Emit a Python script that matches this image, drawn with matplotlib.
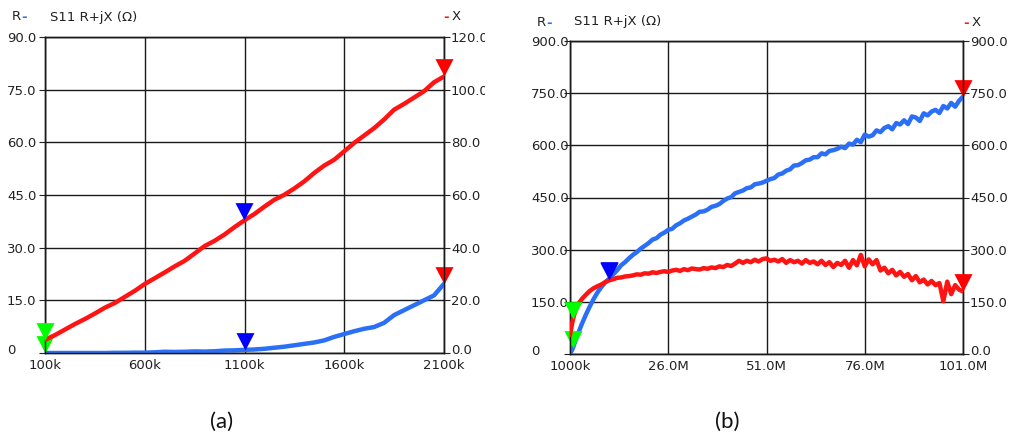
import matplotlib
matplotlib.use("Agg")
import matplotlib.pyplot as plt
from matplotlib.patches import Rectangle
from matplotlib.transforms import ScaledTranslation

# ---------------- data ----------------
# (a) low-frequency sweep, kHz
freq_a = [100, 150, 200, 250, 300, 350, 400, 450, 500, 550, 600, 650, 700, 750,
          800, 850, 900, 950, 1000, 1050, 1100, 1150, 1200, 1250, 1300, 1350,
          1400, 1450, 1500, 1550, 1600, 1650, 1700, 1750, 1800, 1850, 1900,
          1950, 2000, 2050, 2100]
r_a = [0.0, 0.0, 0.0, 0.0, 0.0, 0.0, 0.0, 0.05, 0.05, 0.1, 0.1, 0.2, 0.35, 0.3,
       0.35, 0.45, 0.4, 0.5, 0.7, 0.75, 0.9, 1.0, 1.2, 1.5, 1.8, 2.2, 2.6, 3.0,
       3.6, 4.6, 5.4, 6.2, 6.9, 7.4, 8.6, 10.8, 12.2, 13.6, 15.0, 16.4, 19.7]
x_a = [5.0, 6.8, 8.9, 11.0, 12.9, 15.0, 17.2, 19.0, 21.3, 23.6, 26.2, 28.4, 30.6,
       32.9, 35.0, 37.8, 40.6, 42.6, 45.0, 47.8, 50.4, 52.8, 55.6, 58.2, 60.1,
       62.5, 65.2, 68.4, 71.2, 73.4, 76.6, 79.8, 82.6, 85.4, 88.7, 92.4, 94.6,
       97.0, 99.4, 102.8, 105.0]

# (b) wide sweep, MHz
freq_b = [1, 1.75, 2, 2.5, 3] + list(range(4, 102))
r_b = [0, 17, 26, 42, 57, 86, 112, 136, 158, 177, 193, 206, 217, 229, 241, 255,
       264, 275, 285, 293, 303, 311, 319, 329, 333, 343, 349, 357, 360, 370, 376,
       384, 389, 395, 401, 409, 410, 415, 423, 426, 431, 440, 447, 451, 462, 466,
       470, 477, 479, 488, 490, 493, 498, 503, 506, 516, 519, 527, 531, 542, 543,
       549, 557, 559, 566, 566, 577, 574, 584, 586, 590, 596, 592, 605, 602, 616,
       609, 631, 625, 629, 643, 638, 650, 655, 646, 664, 660, 672, 661, 683, 680,
       670, 692, 686, 697, 702, 693, 713, 706, 722, 711, 728, 740]
x_b = [55, 100, 110, 128, 142, 158, 170, 181, 189, 195, 200, 207, 212, 215, 219,
       220, 223, 224, 226, 229, 228, 232, 231, 235, 233, 236, 238, 236, 240, 242,
       239, 244, 241, 246, 244, 243, 247, 245, 249, 247, 252, 250, 256, 253, 260,
       268, 262, 268, 264, 271, 266, 273, 275, 268, 271, 266, 273, 262, 270, 264,
       268, 260, 270, 262, 266, 258, 268, 256, 264, 250, 262, 256, 268, 248, 270,
       255, 285, 252, 272, 258, 270, 240, 248, 232, 242, 226, 236, 222, 230, 212,
       224, 206, 214, 200, 210, 198, 204, 152, 208, 172, 198, 185, 180]

# marker sample indices (colour, index) per panel
markers_a = [("#00ff00", 0), ("#0000ff", 20), ("#ff0000", 40)]
markers_b = [("#00ff00", 1), ("#0000ff", 12), ("#ff0000", 102)]

ticks_r_a = [0, 15, 30, 45, 60, 75, 90]
ticks_x_a = [0, 20, 40, 60, 80, 100, 120]
xticks_a = [100, 600, 1100, 1600, 2100]
xlabels_a = ["100k", "600k", "1100k", "1600k", "2100k"]

ticks_b = [0, 150, 300, 450, 600, 750, 900]
xticks_b = [1, 26, 51, 76, 101]
xlabels_b = ["1000k", "26.0M", "51.0M", "76.0M", "101.0M"]

# ---------------- styling ----------------
W, H = 1009, 441
BLUE = "#2a6ff5"
RED = "#ff1414"
FS = 9.5
TICK_LEN = 4
plt.rcParams["font.family"] = ["DejaVu Sans"]

fig = plt.figure(figsize=(W / 100, H / 100), dpi=100)


def fx(x):
    return x / W


def fy(y):
    return 1 - y / H


# down-pointing triangle whose tip sits on the data point
tri = [(-0.52, 1.0), (0.52, 1.0), (0.0, 0.0), (-0.52, 1.0)]
lift = ScaledTranslation(0, 4 / 100, fig.dpi_scale_trans)


def panel(left, right, top, bottom, label_x, f, r, x, rlim, xlim, rticks,
          xticks_right, rfmt, xfmt, fticks, flabels, marks):
    ax = fig.add_axes([fx(left), fy(bottom), fx(right - left), (bottom - top) / H])
    ax2 = ax.twinx()
    ax.set_xlim(f[0], f[-1])
    ax.set_ylim(*rlim)
    ax2.set_ylim(*xlim)
    ax.set_xticks(fticks)
    ax.set_xticklabels(flabels)
    ax.set_yticks(rticks)
    ax.set_yticklabels(rfmt)
    ax2.set_yticks(xticks_right)
    ax2.set_yticklabels(xfmt)
    ax.grid(True, color="#1a1a1a", linewidth=1.0)
    for a in (ax, ax2):
        for s in a.spines.values():
            s.set_color("#1a1a1a")
            s.set_linewidth(1.0)
    # left labels are left-aligned at a fixed column (pad is in points)
    pad_pt = (left - label_x) * 72 / 100 - TICK_LEN
    ax.tick_params(axis="y", direction="out", length=TICK_LEN, pad=pad_pt,
                   labelsize=FS, colors="#222222")
    for t in ax.get_yticklabels():
        t.set_horizontalalignment("left")
    ax.tick_params(axis="x", length=0, pad=4, labelsize=FS, colors="#222222")
    ax2.tick_params(axis="y", direction="out", length=TICK_LEN, pad=1,
                    labelsize=FS, colors="#222222")
    # the zero labels sit slightly above the baseline
    ax.get_yticklabels()[0].set_transform(ax.get_yticklabels()[0].get_transform() + lift)
    ax2.get_yticklabels()[0].set_transform(ax2.get_yticklabels()[0].get_transform() + lift)
    ax.plot(f, r, color=BLUE, linewidth=3.2, solid_capstyle="round",
            solid_joinstyle="round", zorder=3)
    ax2.plot(f, x, color=RED, linewidth=3.2, solid_capstyle="round",
             solid_joinstyle="round", zorder=3)
    for col, i in marks:
        ax.plot([f[i]], [r[i]], marker=tri, markersize=25, color=col,
                markeredgewidth=0, linestyle="none", clip_on=False, zorder=5)
        ax2.plot([f[i]], [x[i]], marker=tri, markersize=25, color=col,
                 markeredgewidth=0, linestyle="none", clip_on=False, zorder=5)
    return ax, ax2


# panel (a)
panel(45, 444, 37, 353, 7, freq_a, r_a, x_a,
      (0, 90), (0, 120), ticks_r_a, ticks_x_a,
      ["0"] + [f"{v:.1f}" for v in ticks_r_a[1:]],
      [f"{v:.1f}" for v in ticks_x_a], xticks_a, xlabels_a, markers_a)

# panel (b)
panel(570, 963, 41, 354, 531, freq_b, r_b, x_b,
      (0, 900), (0, 900), ticks_b, ticks_b,
      ["0"] + [f"{v:.1f}" for v in ticks_b[1:]],
      [f"{v:.1f}" for v in ticks_b], xticks_b, xlabels_b, markers_b)

# header texts
for x0, y0, tx0 in [(12, 17, 50), (537, 22, 574)]:
    fig.text(fx(x0), fy(y0), "R", fontsize=FS, color="#222222",
             va="center", ha="left")
    fig.text(fx(x0 + 9), fy(y0 + 1), "-", fontsize=FS, color=BLUE,
             va="center", ha="left", fontweight="bold")
    fig.text(fx(tx0), fy(y0), "S11 R+jX (\u03a9)", fontsize=FS,
             color="#222222", va="center", ha="left")
for x0, y0 in [(443, 17), (963, 22)]:
    fig.text(fx(x0), fy(y0 + 1), "-", fontsize=FS, color=RED,
             va="center", ha="left", fontweight="bold")
    fig.text(fx(x0 + 9), fy(y0), "X", fontsize=FS, color="#222222",
             va="center", ha="left")

# right-hand tick labels of panel (a) are cut at the panel edge
fig.add_artist(Rectangle((fx(485), 0), fx(528 - 485), 1, transform=fig.transFigure,
                         facecolor="white", edgecolor="none", zorder=20))

# panel captions
fig.text(fx(222), fy(422), "(a)", fontsize=16, family=["Lato", "DejaVu Sans"],
         ha="center", va="center", color="#111111")
fig.text(fx(727), fy(422), "(b)", fontsize=16, family=["Lato", "DejaVu Sans"],
         ha="center", va="center", color="#111111")

fig.savefig("out.png", dpi=100, facecolor="white")
